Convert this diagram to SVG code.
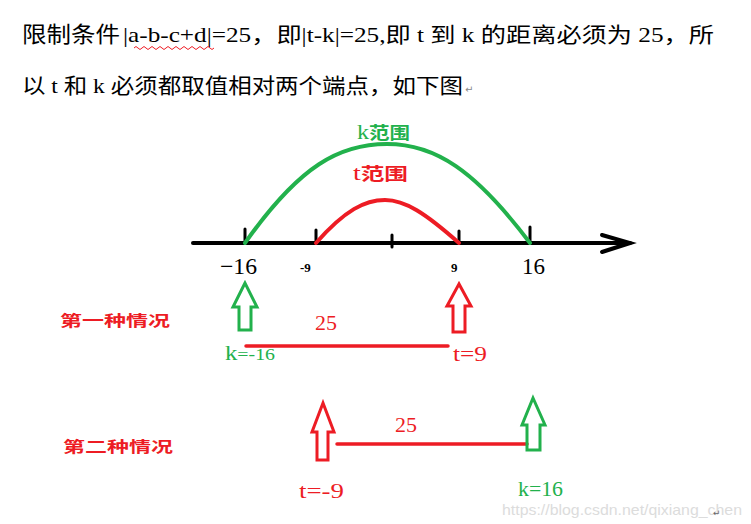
<svg xmlns="http://www.w3.org/2000/svg" width="751" height="524" viewBox="0 0 751 524">
<style>
.cjk{font-family:"Liberation Serif","Noto Sans CJK SC",serif;fill:#000}
.ser{font-family:"Liberation Serif","Noto Sans CJK SC",serif}
.g{fill:#22b14c}
.r{fill:#ed1c24}
.lbl{font-family:"Noto Sans CJK SC",sans-serif;font-weight:bold}
.harrow{fill:none;stroke-width:3;stroke-linejoin:miter}
</style>
<rect width="751" height="524" fill="#fff"/>
<g id="header">
<text class="cjk" x="22" y="42" font-size="22" textLength="98" lengthAdjust="spacingAndGlyphs">限制条件</text>
<text class="cjk" x="123" y="42" font-size="21" textLength="591" lengthAdjust="spacingAndGlyphs">|a-b-c+d|=25，即|t-k|=25,即 t 到 k 的距离必须为 25，所</text>
<path d="M134,48 q2,-3 4,0 t4,0 t4,0 t4,0 t4,0 t4,0 t4,0 t4,0 t4,0 t4,0 t4,0 t4,0 t4,0 t4,0 t4,0 t4,0 t4,0 t4,0 t4,0 t4,0" fill="none" stroke="#ed1c24" stroke-width="1"/>
<text class="cjk" x="22" y="93" font-size="21" textLength="441" lengthAdjust="spacingAndGlyphs">以 t 和 k 必须都取值相对两个端点，如下图</text>
<text x="465" y="93" font-size="10" fill="#888" font-family="DejaVu Sans,sans-serif">↵</text>
</g>
<g id="connectors" fill="none" stroke-linecap="round">
<line x1="193" y1="243" x2="630" y2="243" stroke="#000" stroke-width="4"/>
<polyline points="602,235 630,243 602,252" stroke="#000" stroke-width="4"/>
<line x1="245" y1="229" x2="245" y2="243" stroke="#000" stroke-width="3"/>
<line x1="316" y1="230" x2="316" y2="243" stroke="#000" stroke-width="3"/>
<line x1="392" y1="235" x2="392" y2="247" stroke="#000" stroke-width="3"/>
<line x1="459" y1="231" x2="459" y2="243" stroke="#000" stroke-width="3"/>
<line x1="530" y1="227" x2="530" y2="243" stroke="#000" stroke-width="3"/>
<path d="M245,243 C300,165 340,144 387,144 C435,144 475,170 530,243" stroke="#22b14c" stroke-width="4"/>
<path d="M316,243 C345,210 365,200 385,200 C405,200 425,213 459,243" stroke="#ed1c24" stroke-width="4"/>
<line x1="246" y1="346" x2="448" y2="346" stroke="#ed1c24" stroke-width="3.5"/>
<line x1="337" y1="444" x2="527" y2="444" stroke="#ed1c24" stroke-width="3.5"/>
</g>
<g id="axis-labels">
<text class="ser" x="220" y="274" font-size="23" textLength="37" lengthAdjust="spacingAndGlyphs">−16</text>
<text class="ser" x="300" y="272" font-size="13" font-weight="bold">-9</text>
<text class="ser" x="451" y="272" font-size="13" font-weight="bold">9</text>
<text class="ser" x="522" y="274" font-size="23" textLength="23" lengthAdjust="spacingAndGlyphs">16</text>
</g>
<g id="k-range">
<text class="g" x="357" y="139" font-size="20" textLength="53" lengthAdjust="spacingAndGlyphs"><tspan font-family="Liberation Serif,serif">k</tspan><tspan class="lbl" font-size="17">范围</tspan></text>
</g>
<g id="t-range">
<text class="r" x="353" y="180" font-size="20" textLength="55" lengthAdjust="spacingAndGlyphs"><tspan font-family="Liberation Serif,serif">t</tspan><tspan class="lbl" font-size="17">范围</tspan></text>
</g>
<g id="case1">
<text class="r lbl" x="60" y="326" font-size="15" textLength="110" lengthAdjust="spacingAndGlyphs">第一种情况</text>
<polygon class="harrow" stroke="#22b14c" points="245,283 233,307 239,307 239,330 251,330 251,307 257,307"/>
<polygon class="harrow" stroke="#ed1c24" points="459,284 447,306 453,306 453,332 465,332 465,306 471,306"/>
<text class="ser r" x="315" y="330" font-size="20" textLength="22" lengthAdjust="spacingAndGlyphs">25</text>
<text class="ser g" x="225" y="360" textLength="50" lengthAdjust="spacingAndGlyphs"><tspan font-size="20">k</tspan><tspan font-size="16">=-16</tspan></text>
<text class="ser r" x="453" y="361" font-size="22" textLength="34" lengthAdjust="spacingAndGlyphs">t=9</text>
</g>
<g id="case2">
<text class="r lbl" x="63" y="452" font-size="15" textLength="110" lengthAdjust="spacingAndGlyphs">第二种情况</text>
<polygon class="harrow" stroke="#ed1c24" points="323,403 312,432 317,432 317,460 328,460 328,432 334,432"/>
<polygon class="harrow" stroke="#22b14c" points="533,398 522,425 527,425 527,450 540,450 540,425 545,425"/>
<text class="ser r" x="395" y="432" font-size="20" textLength="22" lengthAdjust="spacingAndGlyphs">25</text>
<text class="ser r" x="299" y="498" font-size="22" textLength="45" lengthAdjust="spacingAndGlyphs">t=-9</text>
<text class="ser g" x="518" y="496" font-size="21" textLength="45" lengthAdjust="spacingAndGlyphs">k=16</text>
</g>
<g id="watermark">
<text x="502" y="515" font-size="15" fill="#dcdcdc" font-family="Liberation Sans,Arial,sans-serif" textLength="240" lengthAdjust="spacingAndGlyphs">https://blog.csdn.net/qixiang_chen</text>
<text x="713" y="516" font-size="9" fill="#666" font-family="DejaVu Sans,sans-serif">↵</text>
</g>
</svg>
